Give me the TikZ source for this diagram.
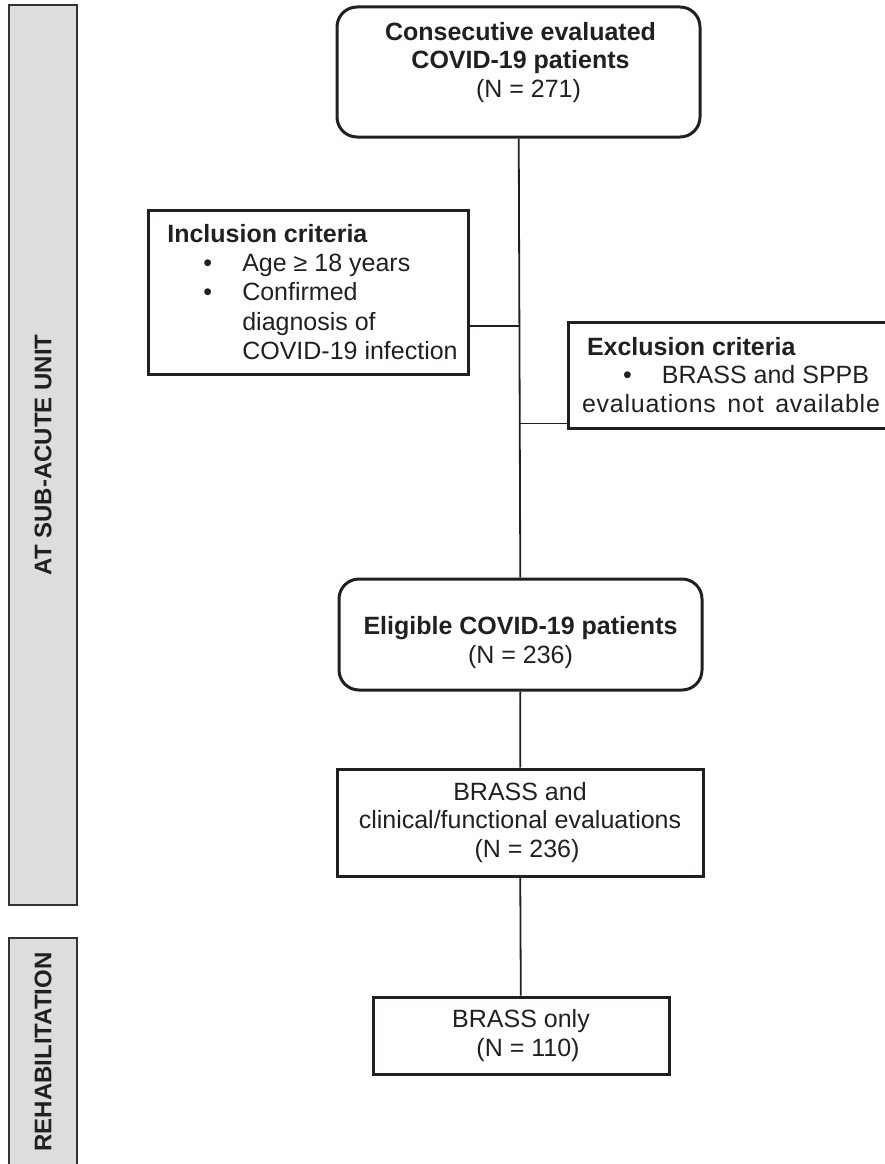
\documentclass[tikz,border=0pt]{standalone}
\usepackage{fontspec}
\setmainfont{Liberation Sans}
\usetikzlibrary{positioning, calc}
\definecolor{cline}{HTML}{231F20}
\definecolor{cband}{HTML}{DCDDDF}
\definecolor{cbandline}{HTML}{333333}

\begin{document}
\begin{tikzpicture}[
    x=1pt, y=-1pt,
    every node/.append style={font=\fontsize{25}{28.5}\selectfont, text=cline},
    rbox/.style={draw=cline, line width=3pt, rounded corners=20pt, minimum width=#1},
    sbox/.style={draw=cline, line width=3pt, align=center},
    txt/.style={align=center},
    band/.style={draw=cbandline, fill=cband, line width=2pt, rotate=90, minimum height=68,
      font=\bfseries\fontsize{24}{28}\selectfont},
    conn/.style={draw=cline, line width=1.8pt},
  ]
  \useasboundingbox (0,0) rectangle (885,1164);
  \clip (0,0) rectangle (885,1164);

  % side bands
  \node[band, minimum width=900] (sub) at (43,455) {AT SUB-ACUTE UNIT};
  \node[band, minimum width=228] (rehab) at (43,1052) {REHABILITATION};

  % flow
  \node[rbox=363, minimum height=130,
    label={[txt, xshift=2pt, yshift=9.5pt]center:{\textbf{Consecutive evaluated}\\\textbf{COVID-19 patients}\\\hspace*{16pt}(N = 271)}}]
    (top) at (518.5,72) {};
  \node[rbox=363, minimum height=111,
    label={[txt, yshift=-8pt]center:{\textbf{Eligible COVID-19 patients}\\(N = 236)}}]
    (elig) at (520.5,634.5) {};
  \node[sbox, minimum width=366, minimum height=107] (both) at (520,822.5)
    {BRASS and\\clinical/functional evaluations\\\hspace*{14pt}(N = 236)};
  \node[sbox, minimum width=296, minimum height=77] (only) at (521,1035.5)
    {BRASS only\\\hspace*{14pt}(N = 110)};

  % criteria
  \node[sbox, align=left, minimum width=320, minimum height=164,
    font=\fontsize{25}{29.2}\selectfont] (incl) at (308,292)
    {\hspace*{9pt}\textbf{Inclusion criteria}\\
     \hspace*{45pt}\makebox[39pt][l]{\textbullet}Age ≥ 18 years\\
     \hspace*{45pt}\makebox[39pt][l]{\textbullet}Confirmed\\
     \hspace*{84pt}diagnosis of\\
     \hspace*{84pt}COVID-19 infection};
  \node[sbox, align=left, minimum width=326, minimum height=106] (excl) at (731,375)
    {\hspace*{5pt}\textbf{Exclusion criteria}\\
     \hspace*{41pt}\makebox[39pt][l]{\textbullet}BRASS and SPPB\\
     \makebox[298pt][s]{\addfontfeature{LetterSpace=3}evaluations not available}};

  \coordinate (jin) at ($(incl.east)+(0,34)$);
  \coordinate (jex) at ($(excl.south west)+(0,-6)$);

  \draw[conn] (top) -- (elig);
  \draw[conn] (elig) -- (both);
  \draw[conn] (both) -- (only);
  \draw[conn] (jin) -- (jin -| top.south);
  \draw[conn] (jex) -- (jex -| top.south);
\end{tikzpicture}
\end{document}
